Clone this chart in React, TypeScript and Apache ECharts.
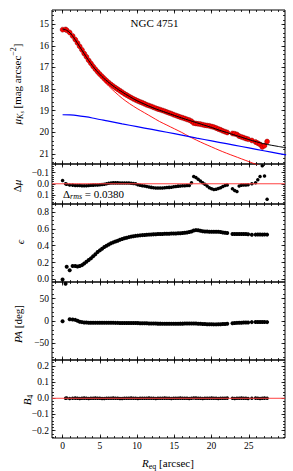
import React, { useEffect, useRef } from "react";
import * as echarts from "echarts";

// Isophote radii (arcsec)
const R = [0, 0.4, 0.55, 0.95, 1.35, 1.7,
  2.0, 2.3, 2.6, 2.9, 3.2, 3.5, 3.8, 4.1, 4.4, 4.7,
  5.0, 5.3, 5.6, 5.9, 6.2, 6.5, 6.8, 7.1, 7.4, 7.7,
  8.0, 8.3, 8.6, 8.9, 9.2, 9.5, 9.8, 10.1, 10.4, 10.7,
  11.0, 11.3, 11.6, 11.9, 12.2, 12.5, 12.8, 13.1, 13.4, 13.7,
  14.0, 14.3, 14.6, 14.9, 15.2, 15.5, 15.8, 16.1, 16.4, 16.7,
  17.0, 17.3, 17.6, 17.9, 18.2, 18.5, 18.8, 19.1, 19.4, 19.7,
  20.0, 20.3, 20.6, 20.9, 21.2, 21.5, 21.8, 22.1,
  22.8, 23.1, 23.4, 23.7, 24.0, 24.3, 24.6, 24.9,
  25.4,
  25.9, 26.2, 26.5, 26.8, 27.1, 27.45];

const MU = [15.25, 15.24, 15.275, 15.38, 15.54, 15.705,
  15.865, 16.025, 16.185, 16.355, 16.505, 16.67, 16.81, 16.95, 17.08, 17.2,
  17.31, 17.415, 17.515, 17.615, 17.706, 17.787, 17.868, 17.938, 18.008, 18.077,
  18.147, 18.216, 18.276, 18.336, 18.395, 18.452, 18.5, 18.55, 18.595, 18.635,
  18.68, 18.73, 18.765, 18.805, 18.845, 18.885, 18.925, 18.955, 18.99, 19.025,
  19.065, 19.105, 19.14, 19.185, 19.22, 19.26, 19.3, 19.33, 19.365, 19.405,
  19.435, 19.49, 19.575, 19.595, 19.61, 19.625, 19.65, 19.675, 19.69, 19.705,
  19.735, 19.76, 19.802, 19.848, 19.885, 19.935, 19.975, 20.01,
  20.055, 20.07, 20.102, 20.18, 20.218, 20.25, 20.29, 20.322,
  20.38,
  20.45, 20.505, 20.565, 20.68, 20.62, 20.43];

const DMU = [-0.03, 0.0, 0.005, 0.01, 0.012, 0.015,
  0.015, 0.016, 0.017, 0.018, 0.017, 0.015, 0.013, 0.012, 0.011, 0.01,
  0.009, 0.007, 0.005, 0.0, -0.004, -0.006, -0.008, -0.008, -0.008, -0.007,
  -0.007, -0.006, -0.006, -0.006, -0.005, -0.003, 0.0, 0.008, 0.014, 0.017,
  0.02, 0.024, 0.028, 0.032, 0.035, 0.037, 0.038, 0.038, 0.037, 0.035,
  0.034, 0.032, 0.03, 0.027, 0.024, 0.021, 0.019, 0.018, 0.017, 0.016,
  0.015, -0.01, -0.065, -0.055, -0.04, -0.025, -0.01, 0.005, 0.02, 0.035,
  0.045, 0.05, 0.048, 0.042, 0.035, 0.025, 0.015, 0.01,
  0.045, 0.06, 0.068, 0.02, 0.012, 0.01, 0.01, 0.008,
  0.0,
  -0.01, -0.035, -0.065, -0.16, -0.07, 0.138];

const EPS = [0.0, -0.05, 0.15, 0.11, 0.16, 0.16,
  0.155, 0.16, 0.17, 0.19, 0.21, 0.23, 0.25, 0.275, 0.3, 0.325,
  0.345, 0.365, 0.385, 0.4, 0.415, 0.43, 0.44, 0.45, 0.46, 0.47,
  0.48, 0.488, 0.495, 0.502, 0.508, 0.513, 0.517, 0.52, 0.523, 0.526,
  0.528, 0.53, 0.532, 0.534, 0.535, 0.537, 0.538, 0.539, 0.54, 0.541,
  0.542, 0.543, 0.544, 0.545, 0.546, 0.547, 0.548, 0.55, 0.553, 0.557,
  0.562, 0.57, 0.58, 0.585, 0.583, 0.578, 0.573, 0.57, 0.568, 0.566,
  0.566, 0.567, 0.567, 0.565, 0.562, 0.558, 0.554, 0.55,
  0.54, 0.538, 0.539, 0.54, 0.54, 0.539, 0.538, 0.537,
  0.53,
  0.532, 0.533, 0.533, 0.532, 0.533, 0.532];

const PA = [-0.5, null, null, 4.0, 3.5, 2.5,
  0.5, -1.5, -2.5, -3.2, -3.5, -3.7, -3.8, -3.8, -3.9, -3.9,
  -4.0, -4.0, -4.0, -4.0, -4.1, -4.1, -4.1, -4.2, -4.2, -4.3,
  -4.3, -4.3, -4.4, -4.4, -4.5, -4.5, -4.6, -4.7, -4.8, -4.9,
  -5.0, -5.2, -5.4, -5.6, -5.7, -5.8, -5.9, -5.9, -6.0, -6.0,
  -6.0, -6.0, -6.0, -6.0, -6.0, -6.0, -5.9, -5.9, -5.8, -5.8,
  -5.7, -5.6, -5.6, -5.8, -6.0, -6.3, -6.6, -6.9, -7.1, -7.3,
  -7.4, -7.5, -7.5, -7.4, -7.2, -6.9, -6.5, -6.0,
  -5.0, -4.6, -4.2, -3.9, -3.7, -3.5, -3.3, -3.2,
  -2.5,
  -2.0, -2.1, -2.3, -2.2, -2.4, -2.5];

const B4 = [null, 0.0, 0.002, -0.002, 0.0, 0.001,
  0.0, -0.001, 0.0, 0.001, 0.0, -0.001, 0.0, 0.0, 0.001, 0.0,
  0.0, -0.001, -0.001, 0.0, 0.0, 0.0, 0.001, 0.0, 0.0, -0.001,
  -0.001, 0.0, 0.0, 0.0, 0.001, 0.0, 0.0, -0.001, 0.0, 0.0,
  0.0, 0.0, 0.001, 0.0, 0.0, -0.001, 0.0, 0.0, 0.0, 0.001,
  0.0, 0.0, -0.001, 0.0, 0.0, 0.0, 0.001, 0.0, 0.0, 0.0,
  -0.001, 0.0, 0.002, 0.001, 0.0, 0.0, -0.001, 0.0, 0.0, 0.0,
  0.001, 0.0, 0.0, -0.001, 0.0, 0.0, 0.0, 0.001,
  0.0, -0.001, 0.0, 0.0, 0.001, 0.0, 0.0, -0.001,
  0.0,
  0.001, 0.0, -0.002, 0.0, 0.001, 0.0];

// Model curves [R, mu]
const TOTAL = [[0, 15.22], [0.5, 15.27], [1, 15.4], [1.5, 15.62], [2, 15.88], [2.5, 16.15], [3, 16.42], [3.5, 16.68],
  [4, 16.92], [4.5, 17.13], [5, 17.32], [5.5, 17.49], [6, 17.64], [6.5, 17.78], [7, 17.91], [7.5, 18.03], [8, 18.14],
  [9, 18.35], [10, 18.54], [11, 18.7], [12, 18.85], [13, 18.98], [14, 19.1], [15, 19.22], [16, 19.34], [17, 19.45],
  [18, 19.56], [19, 19.67], [20, 19.78], [21, 19.9], [22, 20.01], [23, 20.12], [24, 20.23], [25, 20.34], [26, 20.44],
  [27, 20.53], [28, 20.6], [29, 20.66], [30, 20.72]];
const BULGE = [[0, 15.22], [0.5, 15.27], [1, 15.41], [1.5, 15.63], [2, 15.9], [2.5, 16.18], [3, 16.46], [3.5, 16.73],
  [4, 16.98], [4.5, 17.21], [5, 17.42], [5.5, 17.62], [6, 17.8], [6.5, 17.97], [7, 18.13], [8, 18.43], [9, 18.68],
  [10, 18.9], [11, 19.1], [12, 19.3], [13, 19.5], [14, 19.67], [15, 19.84], [16, 20.01], [17, 20.2], [18, 20.37],
  [19, 20.53], [20, 20.68], [21, 20.83], [22, 20.97], [23, 21.1], [24, 21.23], [25, 21.36], [26, 21.49], [27, 21.61]];
const DISK = [[0, 19.19], [1, 19.2], [2, 19.23], [3, 19.28], [4, 19.34], [5, 19.41], [6, 19.47], [8, 19.61], [10, 19.74],
  [12, 19.87], [14, 20.0], [16, 20.13], [18, 20.27], [20, 20.4], [22, 20.53], [24, 20.66], [26, 20.79], [28, 20.92], [30, 21.05]];

// Tick labels
const X_TICKS = [0, 5, 10, 15, 20, 25];
const MU_TICKS = [15, 16, 17, 18, 19, 20, 21];
const DMU_TICKS = [-0.1, 0.0, 0.1];
const EPS_TICKS = [0.0, 0.2, 0.4, 0.6, 0.8];
const PA_TICKS = [-50, 0, 50];
const B4_TICKS = [-0.2, -0.1, 0.0, 0.1, 0.2];

const FONT = "'Liberation Serif', 'DejaVu Serif', serif";
const X_MIN = -1.42;
const X_MAX = 29.85;

const minus = (s: string) => s.replace("-", "\u2212");
const f1 = (v: number) => (Math.abs(v) < 1e-9 ? "0.0" : minus(v.toFixed(1)));
const f0 = (v: number) => minus(String(Math.round(v)));

function minorTicks(min: number, max: number, step: number) {
  const out: number[] = [];
  const start = Math.ceil(min / step - 1e-9);
  for (let k = start; k * step <= max + 1e-9; k++) out.push(Math.round(k * step * 10000) / 10000);
  return out;
}

const PANELS = [
  { top: 10, height: 154, min: 14.34, max: 21.47, inverse: true, major: MU_TICKS, minor: 0.2, fmt: f0 },
  { top: 164, height: 40, min: -0.176, max: 0.18, inverse: true, major: DMU_TICKS, minor: 0.02, fmt: f1 },
  { top: 204, height: 78, min: -0.03, max: 0.895, inverse: false, major: EPS_TICKS, minor: 0.05, fmt: f1 },
  { top: 282, height: 78, min: -87, max: 87, inverse: false, major: PA_TICKS, minor: 10, fmt: f0 },
  { top: 360, height: 78, min: -0.246, max: 0.237, inverse: false, major: B4_TICKS, minor: 0.02, fmt: f1 },
];

function mkAxis(gridIndex: number, position: string, min: number, max: number, ticks: number[], len: number,
  label: boolean, fmt: any, inverse: boolean) {
  return {
    type: "value", gridIndex, position, min, max, inverse,
    splitLine: { show: false },
    axisLine: { show: false, onZero: false },
    minorTick: { show: false },
    axisTick: { show: true, inside: true, length: len, customValues: ticks, lineStyle: { color: "#000", width: 0.8 } },
    axisLabel: label
      ? { show: true, customValues: ticks, formatter: fmt, color: "#000", fontFamily: FONT, fontSize: 9.5, margin: 3 }
      : { show: false },
  };
}

const pts = (ys: (number | null)[]) =>
  R.map((r, i) => (ys[i] === null ? null : [r, ys[i] as number])).filter((p) => p !== null);

export default function App() {
  const ref = useRef<HTMLDivElement>(null);
  useEffect(() => {
    if (!ref.current) return;
    const chart = echarts.init(ref.current, null, { renderer: "svg" });
    const grid: any[] = [];
    const xAxis: any[] = [];
    const yAxis: any[] = [];
    const xMinor = minorTicks(X_MIN, X_MAX, 1);
    PANELS.forEach((p, gi) => {
      grid.push({ left: 52, right: 8, top: p.top, height: p.height, show: true, borderColor: "#000", borderWidth: 1, backgroundColor: "transparent" });
      xAxis.push(mkAxis(gi, "bottom", X_MIN, X_MAX, X_TICKS, 3.5, gi === 4, (v: number) => String(v), false));
      xAxis.push(mkAxis(gi, "bottom", X_MIN, X_MAX, xMinor, 2, false, null, false));
      xAxis.push(mkAxis(gi, "top", X_MIN, X_MAX, X_TICKS, 3.5, false, null, false));
      xAxis.push(mkAxis(gi, "top", X_MIN, X_MAX, xMinor, 2, false, null, false));
      const ym = minorTicks(p.min, p.max, p.minor);
      yAxis.push(mkAxis(gi, "left", p.min, p.max, p.major, 3.5, true, p.fmt, p.inverse));
      yAxis.push(mkAxis(gi, "left", p.min, p.max, ym, 2, false, null, p.inverse));
      yAxis.push(mkAxis(gi, "right", p.min, p.max, p.major, 3.5, false, null, p.inverse));
      yAxis.push(mkAxis(gi, "right", p.min, p.max, ym, 2, false, null, p.inverse));
    });
    const ax = (gi: number) => ({ xAxisIndex: gi * 4, yAxisIndex: gi * 4 });
    const line = (gi: number, data: any, color: string, width: number, z: number) => ({
      type: "line", ...ax(gi), data, symbol: "none", smooth: 0.3, lineStyle: { color, width }, z, silent: true,
    });
    const scat = (gi: number, data: any, size: number, color: string, extra: any = {}) => ({
      type: "scatter", ...ax(gi), data, symbolSize: size, itemStyle: { color, opacity: 1, ...extra }, z: 3, silent: true,
    });
    const zero = [[X_MIN, 0], [X_MAX, 0]];
    const series: any[] = [
      scat(0, pts(MU), 5, "#ff0000", { borderColor: "#700000", borderWidth: 0.4 }),
      line(0, BULGE, "#ff0000", 0.9, 4),
      line(0, DISK, "#0000ff", 1.2, 4),
      line(0, TOTAL, "#000000", 1, 5),
      scat(1, pts(DMU), 3.5, "#000"),
      { ...line(1, zero, "#ff4040", 1, 5), smooth: false },
      { ...scat(2, pts(EPS), 4, "#000"), clip: false },
      scat(3, pts(PA), 4, "#000"),
      scat(4, pts(B4), 3.5, "#000"),
      { ...line(4, zero, "#ff4040", 1, 5), smooth: false },
    ];
    const base = { fontFamily: FONT, fill: "#000", color: "#000" };
    const rich = {
      n: { ...base, fontSize: 11 },
      i: { ...base, fontSize: 11, fontStyle: "italic" },
      sub: { ...base, fontSize: 8, padding: [6, 0, 0, 0] },
      isub: { ...base, fontSize: 8, fontStyle: "italic", padding: [6, 0, 0, 0] },
      iss: { ...base, fontSize: 6, fontStyle: "italic", padding: [10, 0, 0, 0] },
      sup: { ...base, fontSize: 8, padding: [0, 0, 7, 0] },
    };
    const txt = (x: number, y: number, text: string, rot = 0, align = "center") => ({
      type: "text", x, y, rotation: rot, silent: true,
      style: { text, rich, align, verticalAlign: "middle", fontFamily: FONT, fontSize: 11, fill: "#000" },
    });
    const graphic = [
      txt(154.5, 23, "{n|NGC 4751}"),
      txt(63, 193.5, "{n|\u0394}{isub|rms}{n| = 0.0380}", 0, "left"),
      txt(17, 84, "{i|\u03bc}{isub|K}{iss|s}{n| [mag arcsec}{sup|\u22122}{n|]}", Math.PI / 2),
      txt(17, 186, "{n|\u0394}{i|\u03bc}", Math.PI / 2),
      txt(20, 242, "{i|\u03f5}", Math.PI / 2),
      txt(18, 324, "{i|PA}{n| [deg]}", Math.PI / 2),
      txt(27, 400, "{i|B}{sub|4}", Math.PI / 2),
      txt(168, 463, "{i|R}{sub|eq}{n| [arcsec]}"),
    ];
    chart.setOption({ animation: false, backgroundColor: "#fff", grid, xAxis, yAxis, series, graphic });
    return () => chart.dispose();
  }, []);
  return <div ref={ref} style={{ position: "absolute", left: 0, top: 0, width: 293, height: 471 }} />;
}
